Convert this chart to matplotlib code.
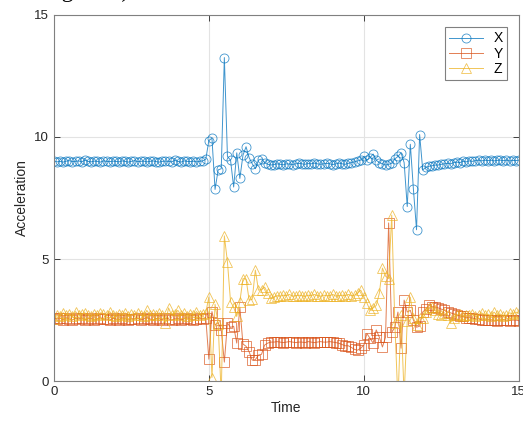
import numpy as np
import matplotlib
matplotlib.use("Agg")
import matplotlib.pyplot as plt

plt.rcParams['font.family'] = ['Liberation Sans', 'DejaVu Sans']

# sample times, 0.1 s apart
time = np.arange(151) / 10.0

accel_x = [
    9.02, 8.98, 9.0, 8.97, 9.01, 9.03, 8.99, 9.0, 9.02, 8.98,
    9.05, 9.0, 8.98, 9.01, 9.0, 8.97, 9.02, 9.0, 8.99, 9.01,
    9.0, 8.98, 9.02, 9.0, 8.97, 9.0, 9.03, 8.99, 9.0, 9.01,
    8.98, 9.0, 9.02, 8.99, 8.97, 9.0, 9.01, 9.0, 8.98, 9.04,
    9.0, 8.97, 9.02, 9.0, 8.99, 9.01, 8.98, 9.0, 9.02,
    9.08, 9.85, 9.95, 7.85, 8.65, 8.7, 13.25, 9.2, 9.05, 7.95,
    9.35, 8.3, 9.25, 9.6, 9.15, 8.9, 8.7, 9.05, 9.1, 8.95,
    8.88, 8.85, 8.87, 8.9, 8.88, 8.86, 8.9, 8.89, 8.87, 8.9,
    8.92, 8.9, 8.88, 8.91, 8.9, 8.93, 8.9, 8.88, 8.9, 8.92,
    8.9, 8.87, 8.9, 8.93, 8.9, 8.88, 8.92, 8.95, 8.98, 9.02, 9.05,
    9.2, 9.05, 9.15, 9.3, 9.05, 8.95, 8.9, 8.85, 8.88, 8.92,
    9.1, 9.2, 9.35, 8.95, 7.15, 9.7, 7.85, 6.2, 10.1, 8.65, 8.75,
    8.8, 8.82, 8.85, 8.85, 8.88, 8.9, 8.92, 8.9, 8.95, 8.97,
    8.95, 9.0, 8.98, 9.02, 9.0, 9.03, 9.05, 9.02, 9.05, 9.03,
    9.05, 9.02, 9.04, 9.05, 9.03, 9.05, 9.02, 9.04, 9.03, 9.05,
]

accel_y = [
    2.6, 2.55, 2.58, 2.52, 2.6, 2.55, 2.5, 2.57, 2.55, 2.6,
    2.52, 2.55, 2.58, 2.5, 2.55, 2.6, 2.53, 2.55, 2.5, 2.57,
    2.55, 2.52, 2.6, 2.55, 2.5, 2.56, 2.55, 2.58, 2.52, 2.55,
    2.6, 2.55, 2.5, 2.57, 2.55, 2.52, 2.58, 2.55, 2.5, 2.55,
    2.57, 2.52, 2.55, 2.6, 2.55, 2.5, 2.55, 2.58, 2.55, 2.6,
    0.9, 2.85, 2.3, 2.4, 2.1, 0.78, 2.38, 2.2, 2.25, 1.56,
    3.03, 1.52, 1.43, 1.2, 0.86, 0.88, 1.07, 1.1, 1.48, 1.56, 1.6,
    1.6, 1.62, 1.6, 1.58, 1.6, 1.62, 1.6, 1.58, 1.6, 1.6,
    1.58, 1.62, 1.6, 1.58, 1.6, 1.62, 1.6, 1.6, 1.62, 1.6,
    1.58, 1.55, 1.5, 1.45,
    1.45, 1.38, 1.3, 1.27, 1.35, 1.48, 1.95, 1.75, 1.56, 2.1,
    1.8, 1.4, 1.8, 6.48, 2.0, 2.2, 2.83, 1.35, 3.32, 2.83,
    2.9, 2.5, 2.21, 2.25, 2.83, 2.95,
    3.1, 3.05, 3.03, 3.0, 2.95, 2.9, 2.83, 2.8, 2.75, 2.7,
    2.68, 2.65, 2.6, 2.6, 2.58, 2.55, 2.55, 2.52, 2.5, 2.52,
    2.5, 2.5, 2.48, 2.5, 2.52, 2.5, 2.48, 2.5, 2.5, 2.48,
]

accel_z = [
    2.55, 2.7, 2.65, 2.8, 2.7, 2.75, 2.65, 2.85, 2.7, 2.75,
    2.8, 2.7, 2.65, 2.75, 2.7, 2.8, 2.75, 2.7, 2.85, 2.7,
    2.65, 2.75, 2.7, 2.8, 2.65, 2.75, 2.7, 2.8, 2.7, 2.65,
    2.9, 2.7, 2.75, 2.7, 2.8, 2.7, 2.4, 3.0, 2.7, 2.75,
    2.9, 2.7, 2.8, 2.65, 2.75, 2.7, 2.85, 2.7, 2.75, 2.8,
    3.45, 0.15, 3.15, 2.35, -0.6, 5.95, 4.88, 3.25, 3.03, 2.65,
    3.25, 4.2, 4.18, 3.32, 3.35, 4.55, 3.73, 3.75, 3.85, 3.6, 3.4,
    3.45, 3.5, 3.48, 3.52, 3.5, 3.55, 3.48, 3.5, 3.52, 3.5,
    3.47, 3.52, 3.5, 3.55, 3.5, 3.48, 3.52, 3.5, 3.5, 3.55,
    3.48, 3.5, 3.52, 3.5, 3.55, 3.5, 3.52,
    3.6, 3.73, 3.45, 3.2, 2.9, 3.0, 3.1, 3.6, 4.63, 4.3,
    4.2, 6.8, 2.4, -0.8, 2.7, -0.6, 2.45, 3.44, 2.58, 2.3,
    2.6, 2.58, 2.83,
    3.0, 3.03, 2.9, 2.75, 2.7, 2.8, 2.7, 2.4, 2.6, 2.7,
    2.75, 2.65, 2.7, 2.7, 2.75, 2.65, 2.7, 2.8, 2.7, 2.75,
    2.65, 2.83, 2.7, 2.75, 2.65, 2.7, 2.8, 2.75, 2.83, 2.78,
]

series = [
    ('X', accel_x, '#0072BD', 'o'),
    ('Y', accel_y, '#D95319', 's'),
    ('Z', accel_z, '#EDB120', '^'),
]

fig = plt.figure(figsize=(5.23, 4.24), dpi=100)
ax = fig.add_axes([0.103, 0.101, 0.889, 0.864])

for name, vals, col, mk in series:
    ax.plot(time, vals, color=col, marker=mk, markersize=6.5, markerfacecolor='none',
            markeredgewidth=0.6, linewidth=0.7, alpha=0.75, label=name)

ax.set_xlim(0, 15)
ax.set_ylim(0, 15)
ax.set_xticks([0, 5, 10, 15])
ax.set_yticks([0, 5, 10, 15])
ax.grid(True, color='#e3e3e3', linewidth=0.8)
ax.set_axisbelow(True)
ax.tick_params(direction='in', top=True, right=True, labelsize=9.5,
               colors='#262626', length=4, width=0.6)
for sp in ax.spines.values():
    sp.set_color('#808080')
    sp.set_linewidth(0.8)
ax.set_xlabel('Time', fontsize=10, color='#262626', labelpad=2)
ax.set_ylabel('Acceleration', fontsize=10, color='#262626', labelpad=4)

leg = ax.legend(loc='upper right', fontsize=10, handlelength=2.4, borderpad=0.3,
                labelspacing=0.1, fancybox=False, framealpha=1,
                bbox_to_anchor=(0.99, 0.985))
leg.get_frame().set_edgecolor('#808080')
leg.get_frame().set_linewidth(0.8)

# caption fragment cut off at the top of the screenshot
fig.text(0.0, 1.02, 'n in Figure 6).', fontsize=17, family='Liberation Serif',
         ha='left', va='center')

fig.savefig('out.png', dpi=100)
